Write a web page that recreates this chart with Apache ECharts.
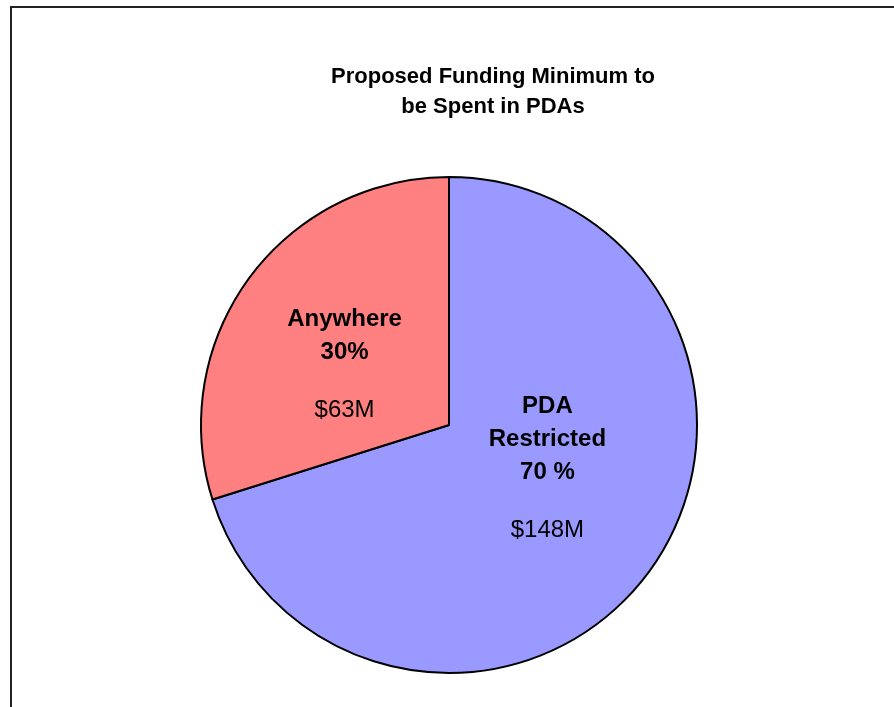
<!DOCTYPE html>
<html>
<head>
<meta charset="utf-8">
<script src="https://cdn.jsdelivr.net/npm/echarts@6/dist/echarts.min.js"></script>
<style>
  html, body { margin: 0; padding: 0; background: #fff; }
  #chart { width: 894px; height: 707px; }
</style>
</head>
<body>
<div id="chart"></div>
<script>
// slice data
var sliceNames = ['PDA\nRestricted', 'Anywhere'];
var sliceValues = [148, 63]; // $M
var pctLabels = ['70 %', '30%'];
var sliceColors = ['#9999FF', '#FF8080'];

var chart = echarts.init(document.getElementById('chart'));

var option = {
    backgroundColor: '#fff',
    animation: false,
    title: {
        text: 'Proposed Funding Minimum to\nbe Spent in PDAs',
        left: 488,
        top: 57,
        textAlign: 'center',
        textStyle: {
            fontFamily: 'Liberation Sans, Arial',
            fontWeight: 'bold',
            fontSize: 22,
            lineHeight: 30,
            color: '#000'
        }
    },
    graphic: [
        {
            // outer frame, runs off the right and bottom edges
            type: 'rect',
            shape: { x: 11, y: 7, width: 900, height: 720 },
            style: { fill: null, stroke: '#222', lineWidth: 2 },
            silent: true
        }
    ],
    series: [
        {
            type: 'pie',
            center: [449, 425],
            radius: 248,
            startAngle: 90,
            clockwise: true,
            avoidLabelOverlap: false,
            itemStyle: { borderColor: '#000', borderWidth: 2 },
            emphasis: { disabled: true },
            label: {
                show: true,
                position: 'inside',
                fontFamily: 'Liberation Sans, Arial',
                color: '#000',
                formatter: function (p) {
                    var lines = p.name.split('\n').map(function (s) { return '{b|' + s + '}'; });
                    lines.push('{b|' + pctLabels[p.dataIndex] + '}');
                    lines.push('{gap| }');
                    lines.push('{v|$' + p.value + 'M}');
                    return lines.join('\n');
                },
                rich: {
                    b: { fontFamily: 'Liberation Sans, Arial', fontWeight: 'bold', fontSize: 24, lineHeight: 33, color: '#000' },
                    gap: { fontSize: 10, lineHeight: 25 },
                    v: { fontFamily: 'Liberation Sans, Arial', fontSize: 24, lineHeight: 33, color: '#000' }
                }
            },
            labelLine: { show: false },
            labelLayout: function (params) {
                return params.dataIndex === 0 ? { dx: -4, dy: -32 } : { dx: -2, dy: 15 };
            },
            data: sliceNames.map(function (n, i) {
                return { name: n, value: sliceValues[i], itemStyle: { color: sliceColors[i] } };
            })
        }
    ]
};

chart.setOption(option);
</script>
</body>
</html>
